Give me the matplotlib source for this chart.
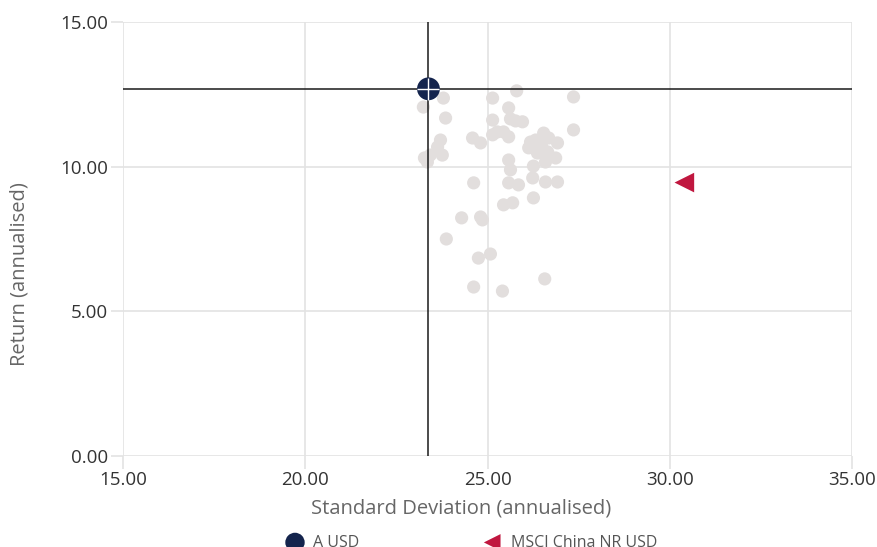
import matplotlib
matplotlib.use('Agg')
import matplotlib.pyplot as plt

plt.rcParams['font.family'] = ['Open Sans', 'DejaVu Sans']

# peer group (grey dots): std dev, return
peer_sd = [23.24, 23.79, 23.85, 25.14, 25.80, 27.36, 25.58, 25.14, 25.63, 25.77,
           25.96, 27.36, 23.71, 23.63, 23.76, 23.43, 23.35, 23.27, 24.59, 24.81,
           25.14, 25.27, 25.44, 25.58, 26.18, 26.32, 26.54, 26.68, 26.92, 26.37,
           26.65, 26.87, 25.58, 26.26, 25.63, 26.24, 26.59, 24.62, 25.58, 25.85,
           26.59, 26.92, 26.26, 25.44, 25.69, 24.29, 24.81, 24.86, 23.87, 24.75,
           25.08, 24.62, 25.41, 26.57, 26.13, 26.48]
peer_ret = [12.06, 12.37, 11.68, 12.37, 12.62, 12.41, 12.03, 11.61, 11.65, 11.58,
            11.55, 11.27, 10.92, 10.68, 10.40, 10.40, 10.16, 10.30, 10.99, 10.82,
            11.10, 11.20, 11.20, 11.03, 10.85, 10.92, 11.16, 10.99, 10.82, 10.47,
            10.51, 10.30, 10.23, 10.02, 9.89, 9.61, 10.16, 9.44, 9.44, 9.37,
            9.47, 9.47, 8.92, 8.68, 8.75, 8.23, 8.26, 8.16, 7.50, 6.84,
            6.98, 5.84, 5.70, 6.12, 10.65, 10.72]

fund_name = 'A USD'
fund_sd = 23.38
fund_ret = 12.69

index_name = 'MSCI China NR USD'
index_sd = 30.40
index_ret = 9.45

x_ticks = [15, 20, 25, 30, 35]
y_ticks = [0, 5, 10, 15]

fig = plt.figure(figsize=(8.78, 5.47), dpi=100)
ax = fig.add_axes([0.1401, 0.1664, 0.8303, 0.7934])

ax.scatter(peer_sd, peer_ret, s=90, color='#e2dedd', edgecolors='none', zorder=2)

# crosshair through the fund
ax.axvline(fund_sd, color='#1a1a1a', lw=1.1, zorder=3)
ax.axhline(fund_ret, color='#1a1a1a', lw=1.1, zorder=3)

h_fund = ax.scatter([fund_sd], [fund_ret], s=270, color='#14244d', edgecolors='none',
                    zorder=4, label=fund_name)
ax.scatter([fund_sd], [fund_ret], s=270, marker='+', color='white', linewidths=1,
           zorder=5)
h_index = ax.scatter([index_sd], [index_ret], s=200, marker='<', color='#c0173f',
                     edgecolors='none', zorder=4, label=index_name)

ax.set_xlim(15, 35)
ax.set_ylim(0, 15)
ax.set_xticks(x_ticks)
ax.set_yticks(y_ticks)
ax.set_xticklabels(['%.2f' % v for v in x_ticks])
ax.set_yticklabels(['%.2f' % v for v in y_ticks])
ax.grid(True, color='#e3e3e3', lw=1.2, zorder=0)
ax.set_axisbelow(True)
for s in ax.spines.values():
    s.set_visible(False)
ax.tick_params(length=9, width=1.2, color='#e3e3e3', labelsize=13.5,
               labelcolor='#333333', pad=2)

ax.set_xlabel('Standard Deviation (annualised)', fontsize=14.5, color='#666666')
ax.set_ylabel('Return (annualised)', fontsize=14.5, color='#666666')
ax.xaxis.set_label_coords(0.464, -0.099)
ax.yaxis.set_label_coords(-0.128, 0.42)

fig.legend(handles=[h_fund, h_index], loc='center', bbox_to_anchor=(0.533, 0.008),
           ncol=2, frameon=False, fontsize=11.5, labelcolor='#555555',
           columnspacing=7.3, handletextpad=0.15, markerscale=0.85)

fig.savefig('out.png', dpi=100)
